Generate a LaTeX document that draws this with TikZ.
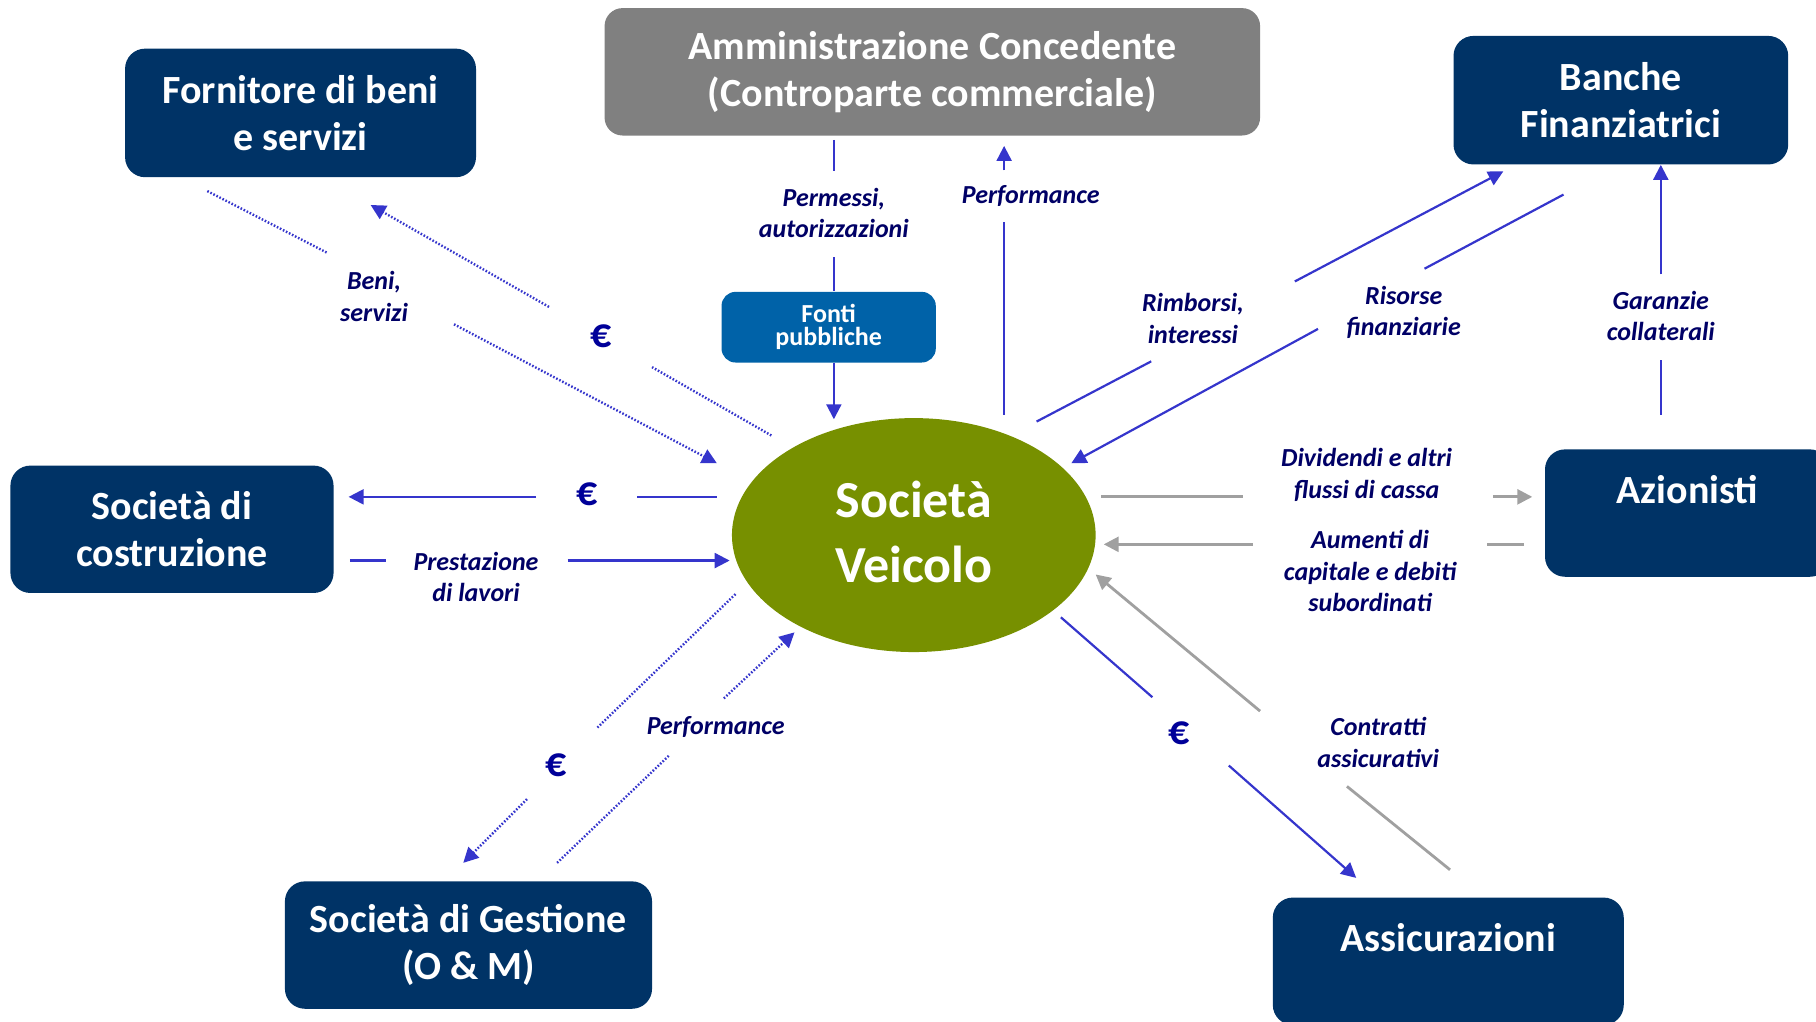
\documentclass[tikz,border=0pt]{standalone}
\usepackage{fontspec}
\setmainfont{Carlito}
\usetikzlibrary{arrows.meta,shapes.geometric}
\definecolor{navy}{HTML}{003366}
\definecolor{ammgray}{HTML}{808080}
\definecolor{fontiblue}{HTML}{0062A8}
\definecolor{olivegr}{HTML}{779000}
\definecolor{lineblue}{HTML}{3535CC}
\definecolor{labelnavy}{HTML}{000066}
\definecolor{eurob}{HTML}{000099}
\definecolor{linegray}{HTML}{A0A0A0}
\def\U{0.5791pt}
\begin{document}
\begin{tikzpicture}[x=0.5791pt,y=-0.5791pt,
  box/.style={fill=navy, rounded corners=10pt, text=white, font=\bfseries\fontsize{20}{23.7}\selectfont, align=center, inner sep=0pt},
  lbl/.style={text=labelnavy, font=\bfseries\itshape\fontsize{13}{15.6}\selectfont, align=center, inner sep=0pt},
  eur/.style={text=eurob, font=\bfseries\fontsize{21}{24}\selectfont, inner sep=0pt},
  bl/.style={draw=lineblue, line width=1.1pt},
  gr/.style={draw=linegray, line width=1.4pt},
  dt/.style={draw=lineblue, line width=1.2pt, dash pattern=on 0.8pt off 0.9pt},
  arrtip/.style={-{Triangle[length=7.5pt,width=7.5pt]}}
]
\useasboundingbox (0,0) rectangle (1568,882);
\clip (0,0) rectangle (1568,882);

% ---------- nodes ----------
\node[box, minimum width=303*\U, minimum height=111*\U] (forn) at (259.5,97.5) {Fornitore di beni\\e servizi};
\node[box, fill=ammgray, rounded corners=9pt, minimum width=566*\U, minimum height=110*\U] (amm) at (805,62) {Amministrazione Concedente\\(Controparte commerciale)};
\node[box, minimum width=289*\U, minimum height=111*\U] (banche) at (1399.5,86.5) {Banche\\Finanziatrici};
\node[box, minimum width=279*\U, minimum height=110*\U] (costr) at (148.5,457) {Società di\\costruzione};
\node[box, minimum width=246*\U, minimum height=110*\U] (azion) at (1457,443) {Azionisti\\ \phantom{Azionisti}};
\node[box, minimum width=317*\U, minimum height=110*\U] (gest) at (404.5,816) {Società di Gestione\\(O \& M)};
\node[box, minimum width=303*\U, minimum height=110*\U] (assic) at (1250.5,830) {Assicurazioni\\ \phantom{Assicurazioni}};
\node[box, fill=fontiblue, rounded corners=7pt, minimum width=185*\U, minimum height=61*\U, font=\bfseries\fontsize{13}{11.6}\selectfont] (fonti) at (715.5,282.5) {Fonti\\pubbliche};
\node[ellipse, fill=olivegr, minimum width=314*\U, minimum height=202*\U, inner sep=0pt] (sv) at (789,462) {};
\node[text=white, align=center, inner sep=0pt, font=\bfseries\fontsize{26}{32.4}\selectfont] (svt) at (789,459) {Società\\Veicolo};

% ---------- labels ----------
\node[lbl] (lperm) at (720,184) {Permessi,\\autorizzazioni};
\node[lbl] (lperf1) at (890,169) {Performance};
\node[lbl] (lrimb) at (1030,275) {Rimborsi,\\interessi};
\node[lbl] (lris) at (1212,270) {Risorse\\finanziarie};
\node[lbl] (lgar) at (1434,273) {Garanzie\\collaterali};
\node[lbl] (ldiv) at (1180,410) {Dividendi e altri\\flussi di cassa};
\node[lbl] (laum) at (1183,493) {Aumenti di\\capitale e debiti\\subordinati};
\node[lbl] (lcon) at (1190,641) {Contratti\\assicurativi};
\node[lbl] (lprest) at (411,498) {Prestazione\\di lavori};
\node[lbl] (lbeni) at (323,256) {Beni,\\servizi};
\node[lbl] (lperf2) at (618,628) {Performance};
\node[eur] (e1) at (519,290) {€};
\node[eur] (e2) at (507,427) {€};
\node[eur] (e3) at (480,661) {€};
\node[eur] (e4) at (1018,633) {€};

% ---------- coordinates ----------
\coordinate (pa) at (720,148); \coordinate (pb) at (720,222); \coordinate (pc) at (720,362);
\coordinate (qa) at (867,358); \coordinate (qb) at (867,192); \coordinate (qc) at (867,147); \coordinate (qd) at (867,126);
\coordinate (ra) at (895,364); \coordinate (rb) at (994,312); \coordinate (rc) at (1118,243); \coordinate (rd) at (1298,148);
\coordinate (sa) at (1350,168); \coordinate (sb) at (1230,232); \coordinate (sc) at (1138,284); \coordinate (sd) at (925,400);
\coordinate (ga) at (1434,358); \coordinate (gb) at (1434,311); \coordinate (gc) at (1434,237);
\coordinate (da) at (951,429); \coordinate (db) at (1073,429); \coordinate (dc) at (1289,429); \coordinate (dd) at (1323,429);
\coordinate (aa) at (1316,470); \coordinate (ab) at (1284,470); \coordinate (ac) at (1082,470); \coordinate (ad) at (953,470);
\coordinate (ca) at (1252,751); \coordinate (cb) at (1163,679); \coordinate (cc) at (1088,614); \coordinate (cd) at (946,496);
\coordinate (ia) at (916,533); \coordinate (ib) at (995,602); \coordinate (ic) at (1061,661); \coordinate (id) at (1171,758);
\coordinate (ka) at (619,429); \coordinate (kb) at (550,429); \coordinate (kc) at (463,429); \coordinate (kd) at (301,429);
\coordinate (la) at (302,484); \coordinate (lb) at (333,484); \coordinate (lc) at (490,484); \coordinate (ld) at (630,484);
\coordinate (ba) at (179,165); \coordinate (bb) at (282,218); \coordinate (bc) at (392,280); \coordinate (bd) at (619,400);
\coordinate (fa) at (666,376); \coordinate (fb) at (563,317); \coordinate (fc) at (474,265); \coordinate (fd) at (320,177);
\coordinate (ma) at (635,513); \coordinate (mb) at (515,629); \coordinate (mc) at (455,690); \coordinate (md) at (400,745);
\coordinate (na) at (481,745); \coordinate (nb) at (578,652); \coordinate (nc) at (625,603); \coordinate (nd) at (686,546);

% ---------- connectors ----------
\draw[bl, shorten <=2pt] (amm.south -| pa) -- (pa);
\draw[bl] (pb) -- (fonti.north -| pb);
\draw[bl, arrtip] (fonti.south -| pb) -- (pc);

\draw[bl] (qa) -- (qb);
\draw[bl, arrtip] (qc) -- (qd);

\draw[bl] (ra) -- (rb);
\draw[bl, arrtip] (rc) -- (rd);

\draw[bl] (sa) -- (sb);
\draw[bl, arrtip] (sc) -- (sd);

\draw[bl] (ga) -- (gb);
\draw[bl, arrtip] (gc) -- (banche.south -| gc);

\draw[gr] (da) -- (db);
\draw[gr, arrtip] (dc) -- (dd);

\draw[gr] (aa) -- (ab);
\draw[gr, arrtip] (ac) -- (ad);

\draw[gr] (ca) -- (cb);
\draw[gr, arrtip] (cc) -- (cd);

\draw[bl] (ia) -- (ib);
\draw[bl, arrtip] (ic) -- (id);

\draw[bl] (ka) -- (kb);
\draw[bl, arrtip] (kc) -- (kd);

\draw[bl] (la) -- (lb);
\draw[bl, arrtip] (lc) -- (ld);

\draw[dt] (ba) -- (bb);
\draw[dt, arrtip] (bc) -- (bd);

\draw[dt] (fa) -- (fb);
\draw[dt, arrtip] (fc) -- (fd);

\draw[dt] (ma) -- (mb);
\draw[dt, arrtip] (mc) -- (md);

\draw[dt] (na) -- (nb);
\draw[dt, arrtip] (nc) -- (nd);
\end{tikzpicture}
\end{document}
